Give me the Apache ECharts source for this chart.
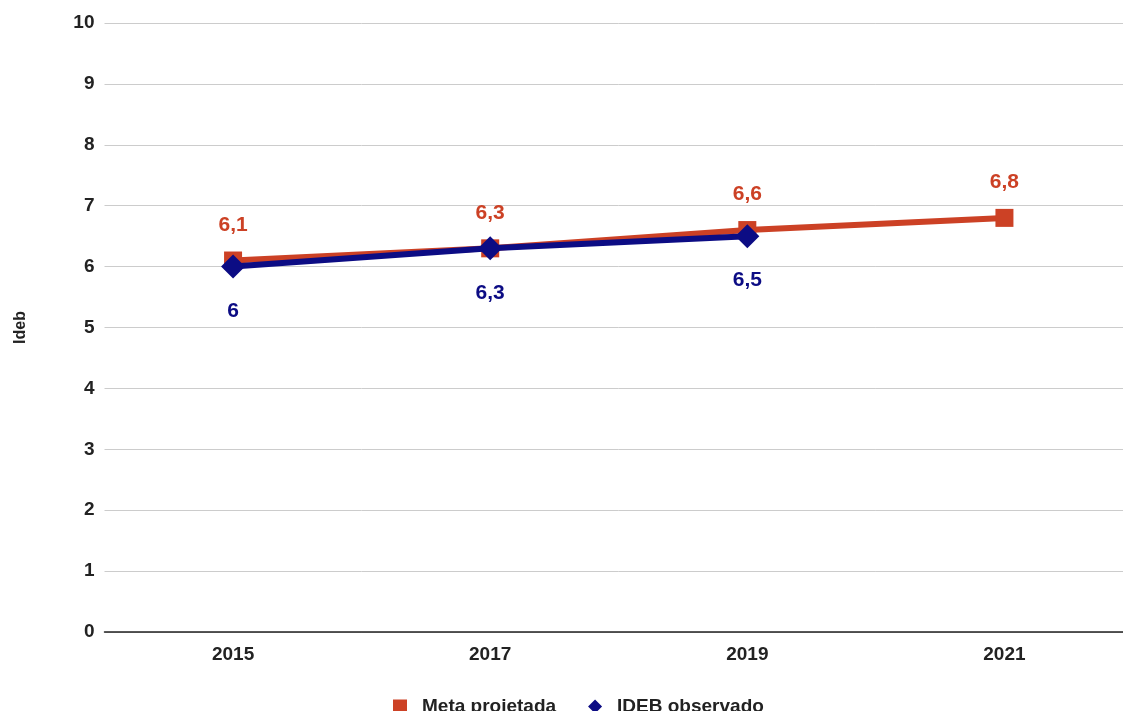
<!DOCTYPE html>
<html>
<head>
<meta charset="utf-8">
<script src="https://cdn.jsdelivr.net/npm/echarts@6/dist/echarts.min.js"></script>
<style>
  html, body { margin: 0; padding: 0; background: #fff; overflow: hidden; }
  #chart { width: 1133px; height: 711px; }
</style>
</head>
<body>
<div id="chart"></div>
<script>
// Anos de referência e valores do Ideb
const years = ['2015', '2017', '2019', '2021'];
const metaProjetada = [6.1, 6.3, 6.6, 6.8];
const idebObservado = [6.0, 6.3, 6.5, null];
const yTicks = [0, 1, 2, 3, 4, 5, 6, 7, 8, 9, 10];

const RED = '#cc4125';
const NAVY = '#0c0c84';
const FONT = '"Liberation Sans", Arial, sans-serif';

const fmt = p => String(p.value).replace('.', ',');

const chart = echarts.init(document.getElementById('chart'));
chart.setOption({
  animation: false,
  backgroundColor: '#fff',
  grid: { left: 104.5, top: 23, right: 0, height: 609 },
  legend: {
    top: 692,
    left: 388,
    itemGap: 32,
    itemWidth: 14,
    itemHeight: 14,
    textStyle: {
      fontFamily: FONT, fontSize: 19, fontWeight: 'bold', color: '#222',
      padding: [0, 0, 0, 10]
    },
    data: [
      { name: 'Meta projetada', icon: 'rect' },
      { name: 'IDEB observado', icon: 'diamond' }
    ]
  },
  xAxis: {
    type: 'category',
    data: years,
    boundaryGap: true,
    axisLine: { lineStyle: { color: '#222', width: 1.5 } },
    axisTick: { show: false },
    axisLabel: { fontFamily: FONT, fontSize: 19, fontWeight: 'bold', color: '#222', margin: 13 }
  },
  yAxis: {
    type: 'value',
    min: yTicks[0],
    max: yTicks[yTicks.length - 1],
    interval: 1,
    name: 'Ideb',
    nameLocation: 'middle',
    nameGap: 76,
    nameRotate: 90,
    nameTextStyle: { fontFamily: FONT, fontSize: 16, fontWeight: 'bold', color: '#222' },
    axisLine: { show: false },
    axisTick: { show: false },
    axisLabel: { fontFamily: FONT, fontSize: 19, fontWeight: 'bold', color: '#222', margin: 10 },
    splitLine: { lineStyle: { color: '#cccccc', width: 1 } }
  },
  series: [
    {
      name: 'Meta projetada',
      type: 'line',
      data: metaProjetada,
      color: RED,
      symbol: 'rect',
      symbolSize: 18,
      lineStyle: { width: 6, color: RED },
      itemStyle: { color: RED },
      label: {
        show: true,
        position: 'top',
        distance: 16,
        formatter: fmt,
        fontFamily: FONT, fontSize: 21, fontWeight: 'bold', color: RED
      },
      z: 2
    },
    {
      name: 'IDEB observado',
      type: 'line',
      data: idebObservado,
      color: NAVY,
      symbol: 'diamond',
      symbolSize: 24,
      lineStyle: { width: 6, color: NAVY },
      itemStyle: { color: NAVY },
      label: {
        show: true,
        position: 'bottom',
        distance: 22,
        formatter: fmt,
        fontFamily: FONT, fontSize: 21, fontWeight: 'bold', color: NAVY
      },
      z: 3
    }
  ]
});
</script>
</body>
</html>
